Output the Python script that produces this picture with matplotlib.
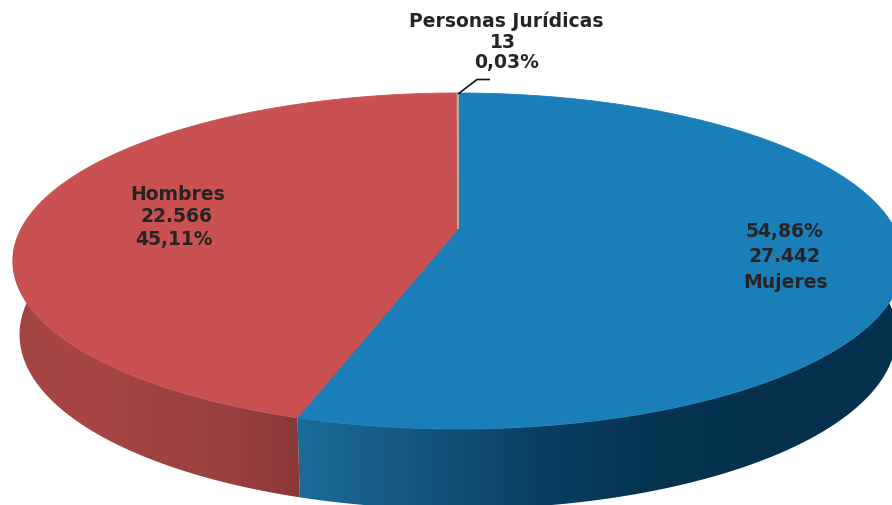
import numpy as np
import matplotlib
matplotlib.use("Agg")
import matplotlib.pyplot as plt
from matplotlib.patches import Polygon
from matplotlib.colors import LinearSegmentedColormap

categories = ["Mujeres", "Hombres", "Personas Jurídicas"]
values = [27442, 22566, 13]
count_labels = ["27.442", "22.566", "13"]
pct_labels = ["54,86%", "45,11%", "0,03%"]

W, H = 892, 506
fig = plt.figure(figsize=(W / 100, H / 100), dpi=100)
ax = fig.add_axes([0, 0, 1, 1])
ax.set_xlim(0, W)
ax.set_ylim(H, 0)
ax.axis("off")

# Perspective projection of a unit circle onto the image
XC, YC, AX, P, R = 458.0, 230.0, 437.0, -118.1, 0.1905
DEPTH_SIDE, DEPTH_FRONT, SHRINK = 72.0, 80.0, 0.985


def project(theta):
    """theta: clockwise angle from the top of the pie, radians."""
    u, v = np.sin(theta), np.cos(theta)
    w = 1 + R * v
    return XC + AX * u / w, (P * v + YC) / w


def project_base(theta):
    x, y = project(theta)
    v = np.cos(theta)
    return XC + (x - XC) * SHRINK, y + DEPTH_SIDE - (DEPTH_FRONT - DEPTH_SIDE) * v


fracs = np.array(values, dtype=float) / np.sum(values)
edges = np.concatenate([[0], np.cumsum(fracs)]) * 2 * np.pi
tops = ["#1A7FB8", "#C95152", "#B9A9A6"]
# left-to-right colour ramps of the front wall
grads = [
    ["#1C6C99", "#14557E", "#0A3F62", "#053350", "#04304D", "#04304D"],
    ["#A34443", "#A84645", "#A04241", "#9A4040", "#8A3738"],
]

theta_lo, theta_hi = np.pi / 2 - 0.02, 3 * np.pi / 2 + 0.06
for i in range(2):
    a = max(edges[i], theta_lo)
    b = min(edges[i + 1], theta_hi)
    t = np.linspace(a, b, 200)
    x, y = project(t)
    xb, yb = project_base(t)
    pts = np.r_[np.c_[x, y], np.c_[xb[::-1], yb[::-1]]]
    wall = Polygon(pts, closed=True, facecolor="none", edgecolor="none")
    ax.add_patch(wall)
    cmap = LinearSegmentedColormap.from_list("w", grads[i])
    g = np.linspace(0, 1, 256)[None, :]
    im = ax.imshow(g, extent=[pts[:, 0].min(), pts[:, 0].max(), H, 0],
                   cmap=cmap, aspect="auto", zorder=2, vmin=0, vmax=1)
    im.set_clip_path(wall)
ax.set_xlim(0, W)
ax.set_ylim(H, 0)

# Top face
for i in range(3):
    t = np.linspace(edges[i], edges[i + 1], 300)
    x, y = project(t)
    pts = np.r_[[[XC, YC]], np.c_[x, y]]
    ax.add_patch(Polygon(pts, closed=True, facecolor=tops[i],
                         edgecolor=tops[i], linewidth=0.6 if i < 2 else 1.2,
                         zorder=3))

# Leader line for the tiny slice
ax.plot([458, 477, 490], [95, 80.5, 80.5], color="#111111", lw=1.2, zorder=4,
        solid_capstyle="butt")

font = dict(family="DejaVu Sans", fontweight="bold", color="#262324",
            fontsize=13.5, ha="center", va="center", zorder=5)
ax.text(506, 21, categories[2], **font)
ax.text(503, 42, count_labels[2], **font)
ax.text(507, 62, pct_labels[2], **font)
ax.text(178, 194, categories[1], **font)
ax.text(177, 217, count_labels[1], **font)
ax.text(174, 239, pct_labels[1], **font)
ax.text(784, 231, pct_labels[0], **font)
ax.text(785, 257, count_labels[0], **font)
ax.text(786, 282, categories[0], **font)

fig.savefig("out.png", dpi=100)
